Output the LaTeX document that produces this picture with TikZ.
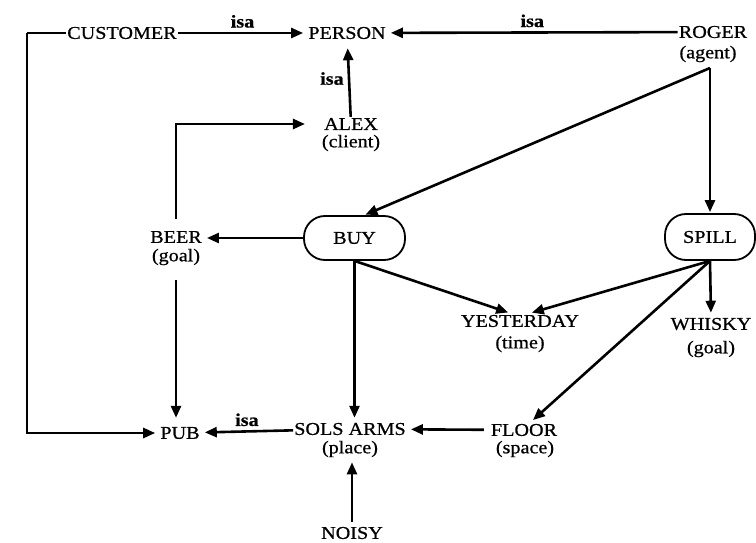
\documentclass[tikz,border=0pt]{standalone}
\usepackage{fontspec}
\setmainfont{Liberation Serif}[FakeStretch=1.12, FakeBold=0.7]
\usetikzlibrary{arrows.meta}

\begin{document}
\begin{tikzpicture}[x=1pt, y=1pt,
  concept/.style={inner sep=1pt, font=\fontsize{18}{20}\selectfont},
  act/.style={draw, line width=1.8pt, rounded corners=21pt, minimum width=101pt,
    minimum height=44pt, font=\fontsize{18}{20}\selectfont},
  link/.style={line width=2.6pt, -{Triangle[length=12pt,width=10pt]}, shorten >=4pt},
  wire/.style={line width=2.6pt},
  rel/.style={font=\bfseries\fontsize{18}{20}\selectfont, inner sep=4pt}]

  \useasboundingbox (0,0) rectangle (756,-543);

  % ---- top row ----
  \node[concept] (customer) at (122,-33) {CUSTOMER};
  \node[concept] (person) at (347,-33) {PERSON};
  \node[concept] (roger) at (713,-32) {ROGER};
  \node[concept] (rogerrole) at (708,-54) {(agent)};

  % ---- ALEX ----
  \node[concept] (alex) at (351,-124) {ALEX};
  \node[concept] (alexrole) at (351,-143) {(client)};

  % ---- acts ----
  \node[act] (buy) at (354.5,-238) {BUY};
  \node[act, minimum width=90pt, minimum height=46pt] (spill) at (710,-237) {SPILL};

  % ---- BEER ----
  \node[concept] (beer) at (176,-237) {BEER};
  \node[concept] (beerrole) at (176,-257) {(goal)};

  % ---- YESTERDAY and WHISKY ----
  \node[concept] (yesterday) at (520,-321) {YESTERDAY};
  \node[concept] (yesterdayrole) at (520,-344) {(time)};
  \node[concept] (whisky) at (711,-324) {WHISKY};
  \node[concept] (whiskyrole) at (711,-349) {(goal)};

  % ---- bottom row ----
  \node[concept] (pub) at (180,-433) {PUB};
  \node[concept] (sols) at (350,-429) {SOLS ARMS};
  \node[concept] (solsrole) at (350,-449) {(place)};
  \node[concept] (floor) at (524,-430) {FLOOR};
  \node[concept] (floorrole) at (525,-449) {(space)};
  \node[concept] (noisy) at (352,-533) {NOISY};

  \coordinate (leftbus) at (27,-33);
  \coordinate (rogerfork) at (710,-68);

  % isa links
  \draw[link] (customer) -- (person) node[midway, above, rel] {isa};
  \draw[link] (roger) -- (person) node[midway, above, rel] {isa};
  \draw[link, shorten >=8pt] (alex) -- (person) node[midway, left, rel] {isa};
  \draw[link] (sols) -- (pub) node[midway, above, rel] {isa};

  % customer round to pub
  \draw[wire] (customer.west) -- (leftbus);
  \draw[link] (leftbus) |- (pub);

  % beer links
  \draw[link, shorten <=11pt, shorten >=18pt] (beer.north) |- (alex.west);
  \draw[link] (buy.west) -- (buy.west -| beer.east);
  \draw[link, shorten <=14pt, shorten >=8pt] (beerrole.south) -- (beerrole.south |- pub.north);

  % roger to the acts
  \draw[link, shorten >=1pt] (rogerfork) -- ([xshift=10pt]buy.north);
  \draw[link, shorten >=1pt] (rogerfork) -- (spill.north);

  % buy and spill
  \draw[link] (buy.south) -- ([xshift=-8pt]yesterday.north);
  \draw[link] (spill.south) -- ([xshift=8pt]yesterday.north);
  \draw[link] (spill.south) -- (whisky.north);
  \draw[link] (spill.south) -- ([xshift=6pt]floor.north);
  \draw[link] (buy.south) -- (buy.south |- sols.north);

  % into SOLS ARMS
  \draw[link, shorten <=6pt] (floor) -- (sols);
  \draw[link, shorten <=4pt] (noisy.north) -- (noisy.north |- solsrole.south);

\end{tikzpicture}
\end{document}
